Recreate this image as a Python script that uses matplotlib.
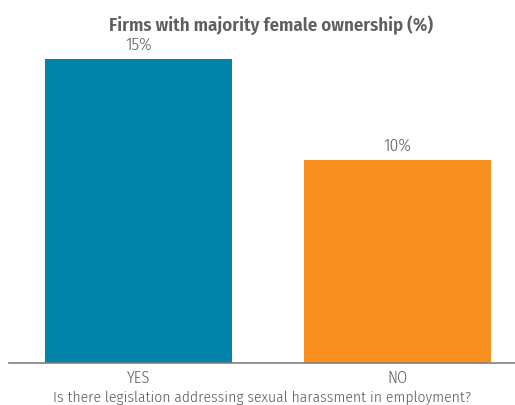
import matplotlib
matplotlib.use("Agg")
import matplotlib.pyplot as plt

categories = ["YES", "NO"]
values = [15, 10]
value_labels = ["15%", "10%"]
colors = ["#0084A9", "#F7901E"]
title = "Firms with majority female ownership (%)"
xlabel = "Is there legislation addressing sexual harassment in employment?"

plt.rcParams['font.family'] = ['Fira Sans Condensed', 'DejaVu Sans']

W, H = 515, 405
fig = plt.figure(figsize=(W/100, H/100), dpi=100)
left, right = 9, 515
bottom_px, top_px = 363, 39
ax = fig.add_axes([left/W, 1 - bottom_px/H, (right-left)/W, (bottom_px-top_px)/H])

x = list(range(len(categories)))
ax.bar(x, values, width=0.722, color=colors)
ax.set_xlim(-0.5, 1.4537)
ax.set_ylim(0, 16)
lab_color = '#5a5a5a'
for xi, v, lab in zip(x, values, value_labels):
    ax.text(xi, v + 0.3, lab, ha='center', va='bottom', fontsize=12.5,
            color=lab_color, fontweight=300)

ax.set_xticks(x)
ax.set_xticklabels(categories, fontsize=11.8, color=lab_color, fontweight=300)
ax.tick_params(axis='x', length=0, pad=5)
ax.set_yticks([])
for s in ['top', 'right', 'left']:
    ax.spines[s].set_visible(False)
ax.spines['bottom'].set_color('#808080')
ax.spines['bottom'].set_linewidth(1.2)
ax.set_xlabel(xlabel, fontsize=11.2, color=lab_color, fontweight=300, labelpad=3.5)

fig.text(271/W, 1 - 31/H, title, ha='center', va='baseline', fontsize=13.5,
         fontweight='semibold', color='#5f5f5f')

fig.savefig("out.png", dpi=100)
